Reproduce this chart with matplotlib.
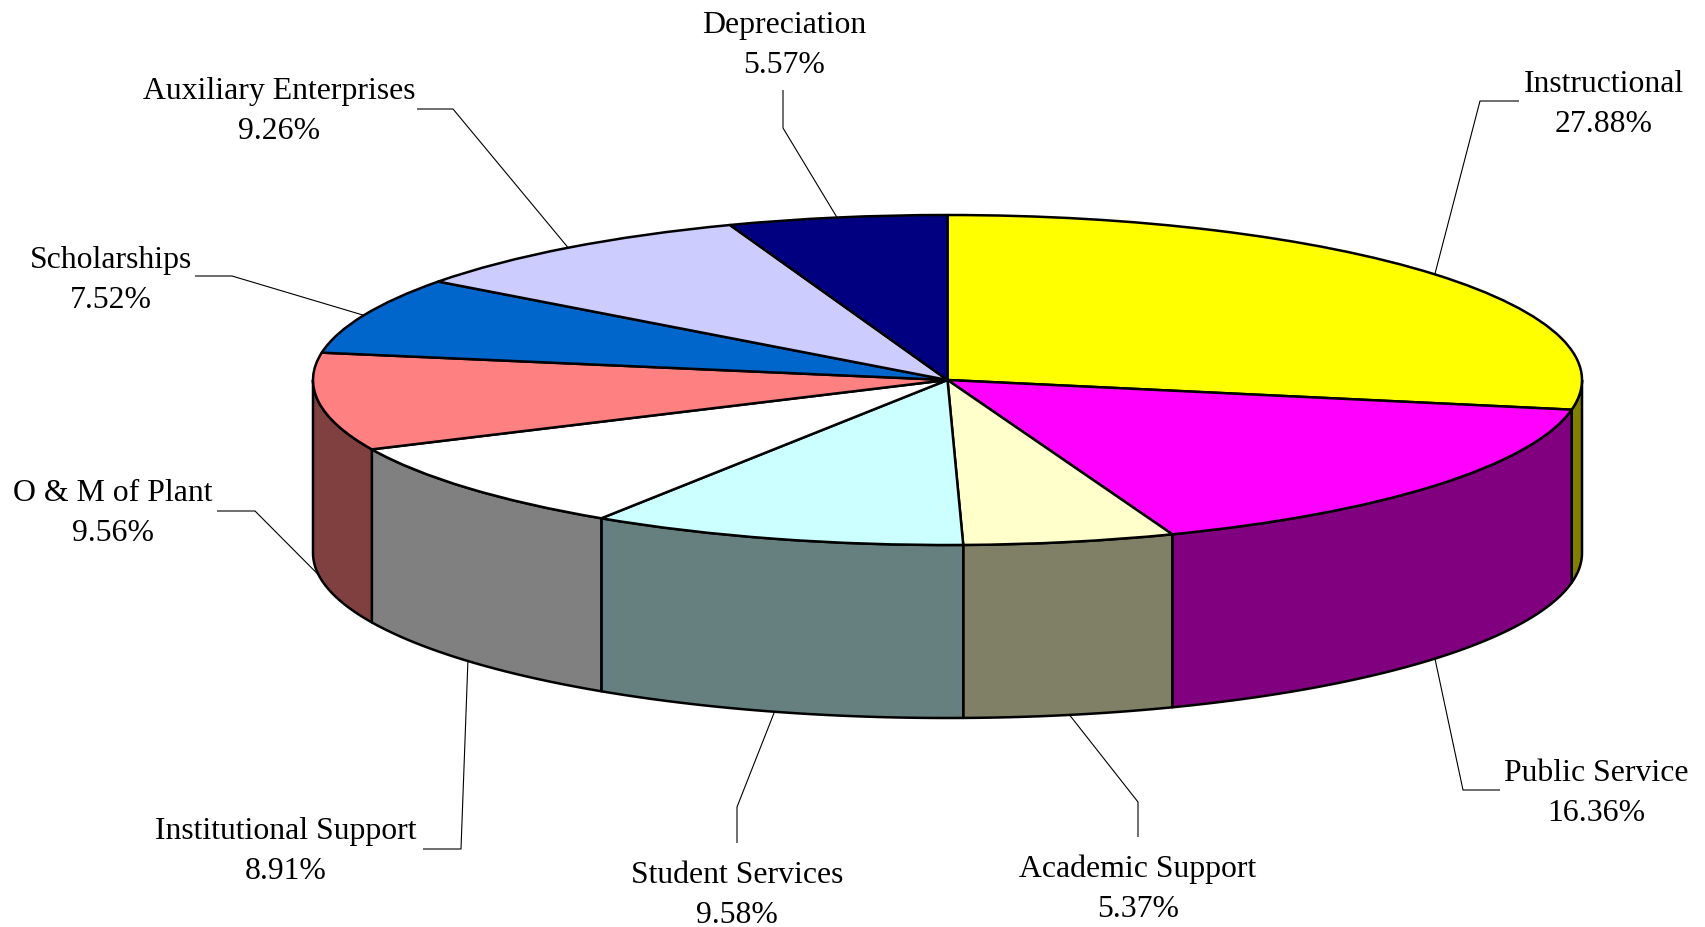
import numpy as np
import matplotlib
matplotlib.use("Agg")
import matplotlib.pyplot as plt
from matplotlib.patches import Polygon
from matplotlib.transforms import Affine2D

# ---- data ----
categories = ["Instructional", "Public Service", "Academic Support", "Student Services",
              "Institutional Support", "O & M of Plant", "Scholarships",
              "Auxiliary Enterprises", "Depreciation"]
percents = [27.88, 16.36, 5.37, 9.58, 8.91, 9.56, 7.52, 9.26, 5.57]
top_colors = ["#FFFF00", "#FF00FF", "#FFFFCC", "#CCFFFF", "#FFFFFF",
              "#FF8080", "#0066CC", "#CCCCFF", "#000080"]
side_colors = ["#808000", "#800080", "#808066", "#668080", "#808080",
               "#804040", "#003366", "#666680", "#000040"]

# ---- layout (pixel coordinates, y downwards) ----
W, H = 1705, 927
cx, cy, rx, ry, depth = 947.5, 380.0, 634.5, 165.0, 173.0
FS = 22.9
LINE_GAP = 40
# label x, name baseline y, elbow point, end point of leader
label_layout = [
    (1604, 92, (1480, 101), (1519, 101)),
    (1596, 781, (1463, 790), (1500, 790)),
    (1138, 877, (1138, 802), (1138, 837)),
    (737, 883, (737, 807), (737, 843)),
    (286, 839, (461, 849), (423, 849)),
    (113, 501, (255, 511), (217, 511)),
    (111, 268, (232, 276), (195, 276)),
    (279, 99, (453, 109), (417, 109)),
    (784, 33, (783, 128), (783, 90)),
]

fig = plt.figure(figsize=(W / 100, H / 100), dpi=100)
ax = fig.add_axes([0, 0, 1, 1])

vals = np.array(percents, dtype=float)
fr = vals / vals.sum()
cum = np.concatenate([[0], np.cumsum(fr)])
a_start = 90 - 360 * cum[:-1]
a_end = 90 - 360 * cum[1:]

def pt(t_deg, dz=0.0):
    t = np.radians(t_deg)
    return cx + rx * np.cos(t), cy - ry * np.sin(t) + dz

# side walls (front half: angles between -180 and 0)
for i in range(len(vals)):
    lo = max(a_end[i], -180.0)
    hi = min(a_start[i], 0.0)
    if hi <= lo:
        continue
    ts = np.linspace(hi, lo, 200)
    xs, ys = pt(ts)
    top = np.column_stack([xs, ys])
    bot = np.column_stack([xs[::-1], ys[::-1] + depth])
    poly = Polygon(np.vstack([top, bot]), closed=True, facecolor=side_colors[i],
                   edgecolor="black", linewidth=1.8, zorder=1, joinstyle="round")
    ax.add_patch(poly)

# top face using the library pie, squashed into an ellipse
wedges, _ = ax.pie(vals, colors=top_colors, startangle=90, counterclock=False,
                   radius=1, center=(0, 0), frame=True,
                   wedgeprops=dict(edgecolor="black", linewidth=1.8))
T = Affine2D().scale(rx, -ry).translate(cx, cy) + ax.transData
for w in wedges:
    w.set_transform(T)
    w.set_zorder(2)
    w.set_joinstyle("round")

# labels with leader lines
for i, (lx, ly, elbow, end) in enumerate(label_layout):
    m = (a_start[i] + a_end[i]) / 2
    ax_, ay_ = pt(m, depth if np.sin(np.radians(m)) < 0 else 0.0)
    ax.plot([ax_, elbow[0], end[0]], [ay_, elbow[1], end[1]], color="black",
            lw=0.8, zorder=3, solid_capstyle="butt")
    ax.text(lx, ly, categories[i], ha="center", va="baseline", fontsize=FS,
            family="Liberation Serif", zorder=4)
    ax.text(lx, ly + LINE_GAP, f"{percents[i]:.2f}%", ha="center", va="baseline",
            fontsize=FS, family="Liberation Serif", zorder=4)

ax.set_xlim(0, W)
ax.set_ylim(H, 0)
ax.set_aspect("auto")
ax.axis("off")

fig.savefig("out.png", dpi=100, facecolor="white")
